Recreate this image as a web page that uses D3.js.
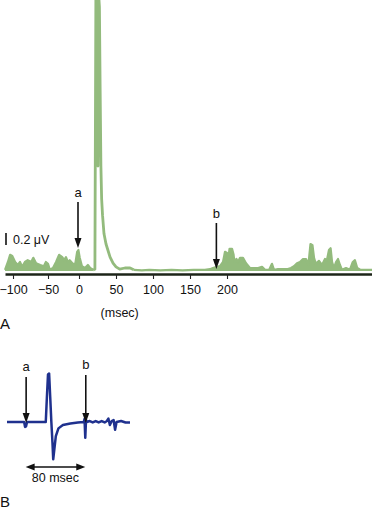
<!DOCTYPE html>
<html>
<head>
<meta charset="utf-8">
<script src="https://cdn.jsdelivr.net/npm/d3@7"></script>
<style>
  body { margin: 0; background: #fff; }
  text { font-family: "Liberation Sans", Arial, sans-serif; fill: #111; }
</style>
</head>
<body>
<svg class="svg" width="372" height="510"></svg>
<script>
// panel A: averaged trace, [msec, µV]
const tickValuesA = [-100, -50, 0, 50, 100, 150, 200];

const preStimulus = [
  [-111, 0.02], [-107, 0.15], [-104, 0.27], [-101, 0.25], [-97, 0.15], [-93, 0.1],
  [-90, 0.15], [-87, 0.07], [-83, 0.15], [-79, 0.18], [-74, 0.15], [-71, 0.22],
  [-67, 0.13], [-61, 0.1], [-56, 0.08], [-53, 0.15], [-50, 0.12], [-47, 0.02],
  [-42, 0.05], [-37, 0.15], [-32, 0.27], [-27, 0.23], [-24, 0.18], [-21, 0.23],
  [-18, 0.15], [-15, 0.18], [-10, 0.12], [-6, 0.12], [-3, 0.32], [-1, 0.35],
  [1, 0.22], [4, 0.08], [8, 0.05], [12, 0.1], [15, 0.05], [19, 0.02]
];

const evokedResponse = [
  [19, 0.02], [21.5, 0.03], [22.8, 4.6], [24.8, 4.6], [25.6, 1.75], [26.6, 4.6],
  [27.6, 4.4], [28.6, 3.0], [29.6, 1.75], [30.6, 1.2], [31.8, 0.93], [33.8, 0.62],
  [36.5, 0.45], [39, 0.35], [42, 0.23], [46, 0.13], [50, 0.07], [55, 0.03],
  [62, 0.05], [69, 0.05], [74, 0.02]
];

const lateActivity = [
  [74, 0.02], [85, 0.01], [95, 0.02], [110, 0.01], [125, 0.02], [140, 0.01],
  [155, 0.02], [170, 0.02], [177, 0.03], [181, 0.05], [186.5, 0.07], [190.5, 0.08],
  [194.6, 0.15], [197.3, 0.32], [200, 0.3], [201.4, 0.15], [203.4, 0.37], [206.8, 0.37],
  [208.8, 0.28], [210, 0.15], [212.8, 0.2], [214.9, 0.15], [217.6, 0.22], [221.6, 0.22],
  [225.7, 0.13], [231, 0.05], [236.5, 0.05], [242, 0.05], [247.3, 0.07], [251.4, 0.02],
  [257, 0.02], [260.8, 0.12], [263.5, 0.02], [269, 0.03], [281, 0.03], [286.5, 0.05],
  [290.5, 0.08], [294.6, 0.13], [298.6, 0.15], [302.7, 0.2], [306.8, 0.2], [310, 0.1],
  [312.8, 0.45], [315.5, 0.43], [317.6, 0.22], [320, 0.12], [324.3, 0.17], [328.4, 0.1],
  [332.4, 0.2], [335, 0.18], [337.8, 0.35], [340, 0.38], [342, 0.15], [344.6, 0.05],
  [347.3, 0.15], [350, 0.2], [352.7, 0.1], [355.4, 0.02], [360.8, 0.05], [366, 0.02],
  [370, 0.15], [372.9, 0.18], [376, 0.05], [380, 0.02], [396, 0.02]
];

const markersA = [{ label: 'a', ms: 0 }, { label: 'b', ms: 187 }];

// panel B: single trial, [msec, relative amplitude]
const singleTrial = [
  [-25, 0], [-2, 0], [-0.8, -0.1], [0.5, -0.09], [1.9, 0], [27, 0], [28.5, 0.5],
  [30, 0.97], [31.5, 0.99], [33, 0.5], [34.5, 0], [36, -0.42], [37, -0.76],
  [38.5, -0.56], [40.5, -0.29], [44, -0.13], [50, -0.06], [60, -0.03], [70, -0.01],
  [78, 0], [79, 0.06], [80, -0.32], [81, 0.04], [82, 0], [86, 0.02], [90, -0.01],
  [94, 0.02], [98, -0.01], [102, 0.02], [106, -0.01], [109, 0.02], [111, 0.07],
  [113, -0.06], [115.5, 0.02], [118, 0.04], [120, -0.16], [122, 0], [128, 0.02],
  [134, -0.01], [140, -0.01]
];

const markersB = [{ label: 'a', ms: 0 }, { label: 'b', ms: 80 }];
const intervalB = [0, 80];

const green = '#93bb7d';
const blue = '#1f318e';

const svg = d3.select('.svg');

// ---- panel A ----
const xA = d3.scaleLinear()
  .domain([-111, -100, -50, 0, 50, 100, 150, 200, 400])
  .range([5, 13, 48, 79, 116, 153, 190, 227, 375]);
const yA = d3.scaleLinear().domain([0, 1]).range([271, 211]);

const areaA = d3.area().x(d => xA(d[0])).y0(yA(0)).y1(d => yA(d[1]));
const lineA = d3.line().x(d => xA(d[0])).y(d => yA(d[1]));

[preStimulus, lateActivity].forEach(series => {
  svg.append('path').datum(series)
    .attr('d', areaA)
    .attr('fill', green);
  svg.append('path').datum(series)
    .attr('d', lineA)
    .attr('fill', 'none')
    .attr('stroke', green)
    .attr('stroke-width', 2.2)
    .attr('stroke-linejoin', 'round');
});

svg.append('path').datum(evokedResponse)
  .attr('d', lineA)
  .attr('fill', 'none')
  .attr('stroke', green)
  .attr('stroke-width', 2.8)
  .attr('stroke-linejoin', 'round');

const axisA = svg.append('g')
  .attr('transform', 'translate(0,274)')
  .call(d3.axisBottom(xA).tickValues(tickValuesA).tickSize(5).tickSizeOuter(0).tickPadding(6));
axisA.select('.domain').attr('stroke', '#1c2418').attr('stroke-width', 2.4);
axisA.selectAll('.tick line').attr('stroke', '#222').attr('stroke-width', 1.1);
axisA.selectAll('.tick text').attr('font-size', 12.5).attr('font-family', '"Liberation Sans", Arial, sans-serif').attr('fill', '#111');

svg.append('text').attr('x', xA(55)).attr('y', 317)
  .attr('text-anchor', 'middle').attr('font-size', 12.5).text('(msec)');
svg.append('text').attr('x', 0).attr('y', 329).attr('font-size', 15).text('A');

// 0.2 µV calibration bar
svg.append('line')
  .attr('x1', 6).attr('x2', 6)
  .attr('y1', 245).attr('y2', 245 - (yA(0) - yA(0.2)))
  .attr('stroke', '#111').attr('stroke-width', 1.6);
svg.append('text').attr('x', 13).attr('y', 244).attr('font-size', 12.5).text('0.2 \u03bcV');

function drawArrow(x, yTop, yTip) {
  svg.append('line')
    .attr('x1', x).attr('x2', x).attr('y1', yTop).attr('y2', yTip - 6)
    .attr('stroke', '#111').attr('stroke-width', 1.6);
  svg.append('path')
    .attr('d', `M${x - 3.5},${yTip - 10}L${x + 3.5},${yTip - 10}L${x},${yTip}Z`)
    .attr('fill', '#111');
}

const arrowTopsA = [202, 223];
markersA.forEach((m, i) => {
  const x = xA(m.ms) - 1;
  drawArrow(x, arrowTopsA[i], arrowTopsA[i] + 46);
  svg.append('text').attr('x', x).attr('y', arrowTopsA[i] - 5)
    .attr('text-anchor', 'middle').attr('font-size', 13).text(m.label);
});

// ---- panel B ----
const xB = d3.scaleLinear().domain([-25, 140]).range([7, 130]);
const yB = d3.scaleLinear().domain([0, 1]).range([422, 373]);

svg.append('path').datum(singleTrial)
  .attr('d', d3.line().x(d => xB(d[0])).y(d => yB(d[1])))
  .attr('fill', 'none')
  .attr('stroke', blue)
  .attr('stroke-width', 2.5)
  .attr('stroke-linejoin', 'round');

const arrowTopsB = [377, 375];
markersB.forEach((m, i) => {
  const x = xB(m.ms) + 0.5;
  drawArrow(x, arrowTopsB[i], 423);
  svg.append('text').attr('x', x).attr('y', arrowTopsB[i] - 6)
    .attr('text-anchor', 'middle').attr('font-size', 13).text(m.label);
});

// 80 msec interval
const [i0, i1] = intervalB.map(xB);
svg.append('line')
  .attr('x1', i0 + 6).attr('x2', i1 - 6).attr('y1', 467).attr('y2', 467)
  .attr('stroke', '#111').attr('stroke-width', 1.6);
svg.append('path')
  .attr('d', `M${i0},467L${i0 + 9},463.5L${i0 + 9},470.5Z M${i1},467L${i1 - 9},463.5L${i1 - 9},470.5Z`)
  .attr('fill', '#111');
svg.append('text').attr('x', (i0 + i1) / 2).attr('y', 482)
  .attr('text-anchor', 'middle').attr('font-size', 12.5).text('80 msec');
svg.append('text').attr('x', 0).attr('y', 507).attr('font-size', 15).text('B');
</script>
</body>
</html>
